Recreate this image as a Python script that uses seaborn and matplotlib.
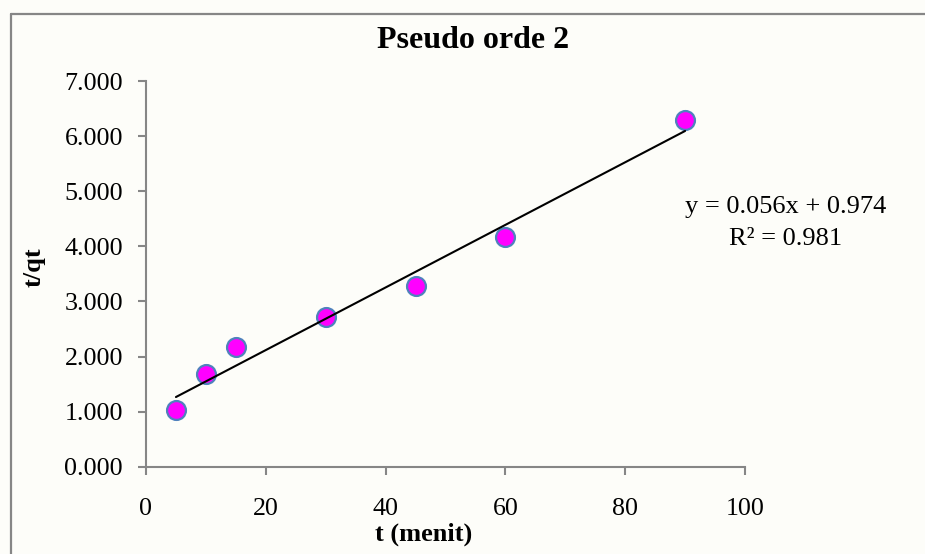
import numpy as np
import pandas as pd
import matplotlib
matplotlib.use("Agg")
import matplotlib.pyplot as plt
from matplotlib.lines import Line2D
from matplotlib.ticker import FormatStrFormatter
import seaborn as sns

# ---- data ----
t_menit = [5, 10, 15, 30, 45, 60, 90]
t_qt = [1.03, 1.68, 2.18, 2.71, 3.28, 4.17, 6.30]
x_ticks = [0, 20, 40, 60, 80, 100]
y_ticks = [0, 1, 2, 3, 4, 5, 6, 7]
title = "Pseudo orde 2"
x_label = "t (menit)"
y_label = "t/qt"
eq_line1 = "y = 0.056x + 0.974"
eq_line2 = "R² = 0.981"

df = pd.DataFrame({"t": t_menit, "tqt": t_qt})

sns.set_style("white")
plt.rcParams["font.family"] = ["Liberation Serif", "DejaVu Serif"]
plt.rcParams["text.color"] = "black"
plt.rcParams["axes.labelcolor"] = "black"
plt.rcParams["xtick.color"] = "black"
plt.rcParams["ytick.color"] = "black"

bg = "#FDFDF9"
grey = "#868686"
fig = plt.figure(figsize=(9.25, 5.54), dpi=100, facecolor=bg)
W, H = 925, 554
ax = fig.add_axes([146 / W, 1 - 466.7 / H, 599 / W, (466.7 - 81) / H])
ax.set_facecolor(bg)

sns.scatterplot(data=df, x="t", y="tqt", ax=ax, s=185, color="#FF00FF",
                edgecolor="#4F81BD", linewidth=1.6, zorder=3, legend=False)
sns.regplot(data=df, x="t", y="tqt", ax=ax, scatter=False, ci=None, truncate=True,
            line_kws=dict(color="black", lw=1.5, zorder=4))

ax.set_xlim(0, 100)
ax.set_ylim(0, 7)
ax.set_xticks(x_ticks)
ax.set_yticks(y_ticks)
ax.yaxis.set_major_formatter(FormatStrFormatter("%.3f"))

for side in ["top", "right"]:
    ax.spines[side].set_visible(False)
for side in ["left", "bottom"]:
    ax.spines[side].set_color(grey)
    ax.spines[side].set_linewidth(1.5)

ax.tick_params(axis="both", which="major", direction="out", length=5.5, width=1.5,
               color=grey, labelsize=18.7, labelcolor="black")
ax.tick_params(axis="x", pad=17)
ax.tick_params(axis="y", pad=11)
ax.tick_params(left=True, bottom=True)

ax.set_xlabel(x_label, fontsize=19, fontweight="bold", va="center", ha="center", color="black")
ax.set_ylabel(y_label, fontsize=19, fontweight="bold", va="center", ha="center", color="black")
ax.xaxis.set_label_coords((424 - 146) / 599, (466.7 - 534) / 385.7)
ax.yaxis.set_label_coords((34.5 - 146) / 599, (466.7 - 267) / 385.7)

fig.text(473 / W, 1 - 48 / H, title, fontsize=23, fontweight="bold",
         ha="center", va="baseline", color="black")
fig.text(786 / W, 1 - 213 / H, eq_line1, fontsize=19, ha="center", va="baseline", color="black")
fig.text(786 / W, 1 - 245 / H, eq_line2, fontsize=19, ha="center", va="baseline", color="black")

# outer chart frame
x0, y0 = 11 / W, 1 - 13.5 / H
fig.add_artist(Line2D([x0, x0], [0, y0], transform=fig.transFigure, color=grey, lw=1.6))
fig.add_artist(Line2D([x0, 1.0], [y0, y0], transform=fig.transFigure, color=grey, lw=1.6))

fig.savefig("out.png", dpi=100, facecolor=bg)
